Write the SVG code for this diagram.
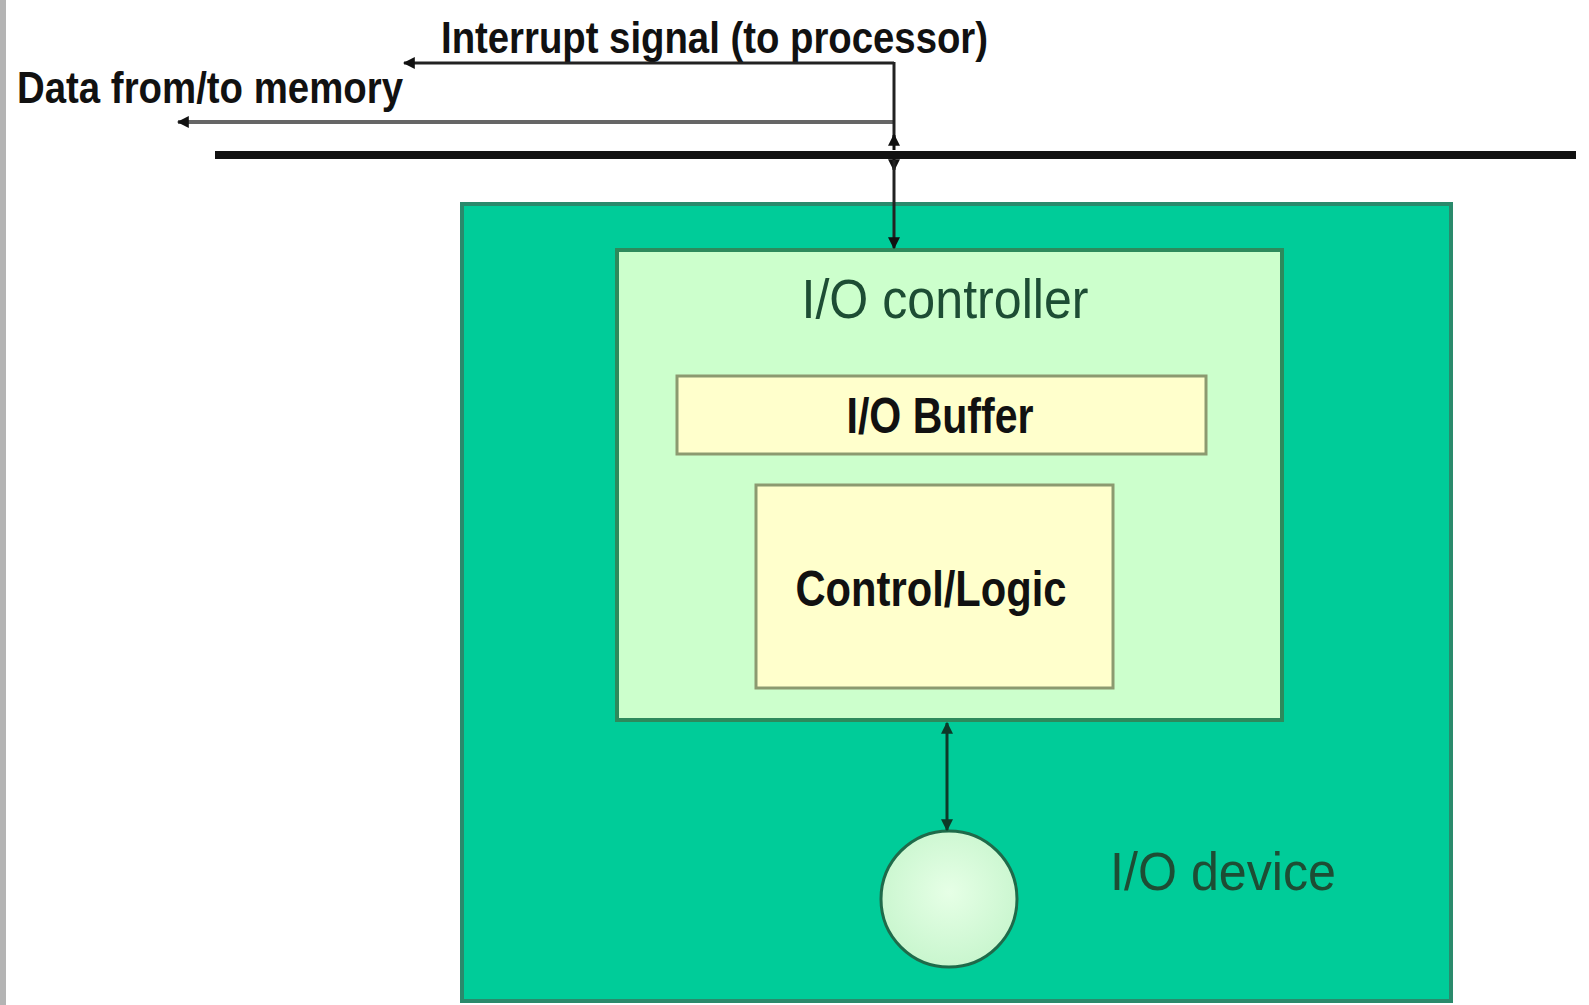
<svg xmlns="http://www.w3.org/2000/svg" width="1589" height="1005" viewBox="0 0 1589 1005">
<style>
.lbl{font-family:"Liberation Sans",Arial,sans-serif;font-weight:bold;fill:#111}
.grn{font-family:"Liberation Sans",Arial,sans-serif;fill:#1d4d34}
.wire{fill:none;stroke:#222;stroke-width:3}
</style>
<defs>
<marker id="ah" viewBox="0 0 10 10" refX="9" refY="5" markerWidth="12" markerHeight="12" markerUnits="userSpaceOnUse" orient="auto-start-reverse">
<path d="M0,0 L10,5 L0,10 z" fill="#111"/>
</marker>
<marker id="ahg" viewBox="0 0 10 10" refX="9" refY="5" markerWidth="12" markerHeight="12" markerUnits="userSpaceOnUse" orient="auto-start-reverse">
<path d="M0,0 L10,5 L0,10 z" fill="#0d3a28"/>
</marker>
<radialGradient id="cg" cx="0.5" cy="0.45" r="0.6">
<stop offset="0" stop-color="#e6ffe6"/>
<stop offset="1" stop-color="#c6f5cc"/>
</radialGradient>
</defs>
<rect width="1589" height="1005" fill="#ffffff"/>
<rect x="0" y="0" width="6" height="1005" fill="#b4b4b4"/>

<g id="bus">
<line x1="215" y1="155" x2="1576" y2="155" stroke="#111" stroke-width="8"/>
</g>

<g id="io-device">
<rect x="462" y="204" width="989" height="797" fill="#00cc99" stroke="#2a8a6c" stroke-width="4"/>
<text class="grn" x="1223" y="890" font-size="54" text-anchor="middle" textLength="226" lengthAdjust="spacingAndGlyphs">I/O device</text>
</g>

<g id="io-controller">
<rect x="617" y="250" width="665" height="470" fill="#ccffcc" stroke="#2d8a5c" stroke-width="4"/>
<text class="grn" x="945" y="318" font-size="55" text-anchor="middle" textLength="287" lengthAdjust="spacingAndGlyphs">I/O controller</text>
</g>

<g id="io-buffer">
<rect x="677" y="376" width="529" height="78" fill="#ffffcc" stroke="#8c9a70" stroke-width="3"/>
<text class="lbl" x="940" y="433" font-size="50" text-anchor="middle" textLength="187" lengthAdjust="spacingAndGlyphs">I/O Buffer</text>
</g>

<g id="control-logic">
<rect x="756" y="485" width="357" height="203" fill="#ffffcc" stroke="#8c9a70" stroke-width="3"/>
<text class="lbl" x="931" y="606" font-size="50" text-anchor="middle" textLength="271" lengthAdjust="spacingAndGlyphs">Control/Logic</text>
</g>

<g id="device-disk">
<circle cx="949" cy="899" r="68" fill="url(#cg)" stroke="#1f6a4a" stroke-width="3"/>
</g>

<g id="labels">
<text class="lbl" x="441" y="53" font-size="44" textLength="547" lengthAdjust="spacingAndGlyphs">Interrupt signal (to processor)</text>
<text class="lbl" x="17" y="103" font-size="44" textLength="386" lengthAdjust="spacingAndGlyphs">Data from/to memory</text>
</g>

<g id="connectors">
<polyline class="wire" points="894,63 404,63" marker-end="url(#ah)"/>
<polyline points="894,122 178,122" fill="none" stroke="#666" stroke-width="4" marker-end="url(#ah)"/>
<line class="wire" x1="894" y1="62" x2="894" y2="142" />
<line x1="894" y1="150" x2="894" y2="135" stroke="#111" stroke-width="3" marker-end="url(#ah)"/>
<line x1="894" y1="158" x2="894" y2="170" stroke="#111" stroke-width="3" marker-end="url(#ah)"/>
<line class="wire" x1="894" y1="160" x2="894" y2="248" marker-end="url(#ah)"/>
<line x1="947" y1="723" x2="947" y2="830" stroke="#0d3a28" stroke-width="3" marker-start="url(#ahg)" marker-end="url(#ahg)"/>
</g>
</svg>
